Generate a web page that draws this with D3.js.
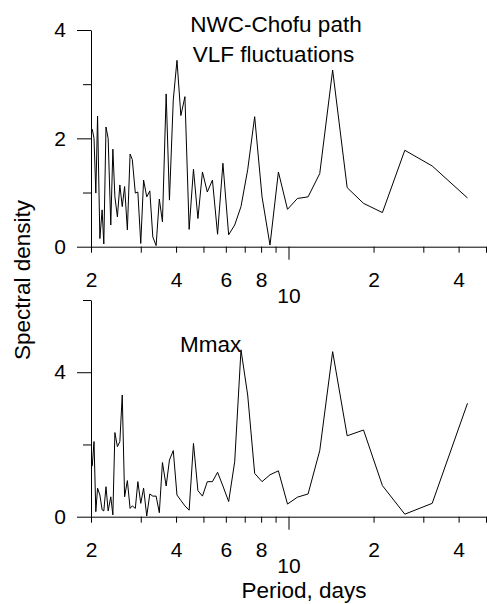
<!DOCTYPE html>
<html>
<head>
<meta charset="utf-8">
<script src="https://cdn.jsdelivr.net/npm/d3@7/dist/d3.min.js"></script>
<style>
  body { margin: 0; background: #fff; }
  svg { display: block; font-family: "Liberation Sans", Arial, sans-serif; }
</style>
</head>
<body>
<div id="chart"></div>
<script>

// period of each spectral estimate, days (longest first)
var periods = [43.0, 32.25, 25.8, 21.5, 18.43, 16.13, 14.33, 12.9, 11.73, 10.75,
  9.92, 9.21, 8.6, 8.06, 7.59, 7.17, 6.79, 6.45, 6.14, 5.86,
  5.61, 5.38, 5.16, 4.96, 4.78, 4.61, 4.45, 4.3, 4.16, 4.03,
  3.91, 3.79, 3.69, 3.58, 3.49, 3.4, 3.31, 3.23, 3.15, 3.07,
  3.0, 2.93, 2.87, 2.8, 2.75, 2.69, 2.63, 2.58, 2.53, 2.48,
  2.43, 2.39, 2.35, 2.3, 2.26, 2.22, 2.19, 2.15, 2.11, 2.08,
  2.05, 2.02];

// NWC-Chofu VLF fluctuations
var vlfDensity = [0.90, 1.49, 1.78, 0.63, 0.80, 1.09, 3.26, 1.35, 0.92, 0.89,
  0.69, 1.38, 0.03, 0.92, 2.40, 1.42, 0.74, 0.40, 0.22, 1.54,
  0.23, 1.23, 1.01, 1.38, 0.52, 1.43, 0.32, 2.77, 2.42, 3.44,
  2.71, 0.86, 2.82, 0.46, 0.88, 0.02, 0.18, 1.03, 0.92, 1.23,
  0.06, 1.01, 0.99, 1.61, 1.71, 0.31, 1.11, 0.74, 1.14, 0.55,
  0.92, 1.80, 0.40, 2.00, 2.21, 0.05, 0.68, 0.15, 2.41, 0.99,
  2.00, 2.17];

// Mmax
var mmaxDensity = [3.14, 0.37, 0.07, 0.86, 2.40, 2.24, 4.57, 1.83, 0.63, 0.54,
  0.35, 1.27, 1.16, 0.97, 1.20, 3.37, 4.62, 1.52, 0.42, 0.85,
  1.23, 0.97, 0.97, 0.57, 0.72, 2.03, 0.18, 0.30, 0.45, 0.60,
  1.83, 1.57, 0.85, 1.50, 0.11, 0.57, 0.57, 0.63, 0.02, 0.79,
  0.37, 0.97, 0.23, 0.30, 0.23, 1.00, 0.55, 3.37, 2.08, 1.94,
  2.33, 0.05, 0.55, 0.16, 0.83, 0.16, 0.19, 0.60, 0.79, 0.14,
  2.08, 1.40];

var xTicks = [2, 3, 4, 5, 6, 7, 8, 9, 10, 20, 30, 40, 50];
var xTickLabels = { 2: "2", 4: "4", 6: "6", 8: "8", 10: "10", 20: "2", 40: "4" };

var width = 487, height = 604;

var svg = d3.select('#chart').append('svg')
  .attr('width', width)
  .attr('height', height);

var x = d3.scaleLog().domain([2, 50]).range([91, 486]);

function drawPanel(opts) {
  var y = d3.scaleLinear().domain([0, opts.yMax]).range([opts.bottom, opts.top]);
  var g = svg.append('g');

  // x axis
  var xAxis = d3.axisBottom(x)
    .tickValues(xTicks)
    .tickSize(6)
    .tickSizeOuter(0)
    .tickFormat(function(d) { return xTickLabels[d] || ''; });
  var xg = g.append('g')
    .attr('transform', 'translate(0,' + opts.bottom + ')')
    .call(xAxis);
  xg.selectAll('.tick line').attr('y2', function(d) { return d === 10 ? 13 : 6; });
  xg.selectAll('.tick text')
    .attr('dy', null)
    .attr('y', function(d) { return d === 10 ? 56.3 : 40.5; })
    .attr('font-size', 21);

  // y axis
  var yAxis = d3.axisLeft(y)
    .tickValues(opts.yTicks)
    .tickSize(14)
    .tickSizeOuter(0)
    .tickPadding(11)
    .tickFormat(function(d) { return opts.yLabels.indexOf(d) >= 0 ? d : ''; });
  var yg = g.append('g')
    .attr('transform', 'translate(91,0)')
    .call(yAxis);
  yg.selectAll('.tick line').attr('x2', function(d) { return opts.yLabels.indexOf(d) >= 0 ? -14 : -8; });
  yg.selectAll('.tick text').attr('font-size', 21);

  g.selectAll('.domain').attr('stroke', '#000');
  g.selectAll('.tick line').attr('stroke', '#000');
  g.selectAll('.tick text').attr('fill', '#000').attr('font-family', null);

  var line = d3.line()
    .x(function(d, i) { return x(periods[i]); })
    .y(function(d) { return y(d); });

  g.append('path')
    .datum(opts.values)
    .attr('fill', 'none')
    .attr('stroke', '#000')
    .attr('stroke-width', 1)
    .attr('d', line);
}

drawPanel({ values: vlfDensity, yMax: 4, top: 30, bottom: 246.7,
  yTicks: [0, 1, 2, 3, 4], yLabels: [0, 2, 4] });
drawPanel({ values: mmaxDensity, yMax: 6, top: 300, bottom: 516.7,
  yTicks: [0, 2, 4, 6], yLabels: [0, 4] });

// titles and axis labels
svg.append('text').attr('x', 276).attr('y', 31.7).attr('text-anchor', 'middle')
  .attr('font-size', 22.5).text('NWC-Chofu path');
svg.append('text').attr('x', 273.5).attr('y', 62.3).attr('text-anchor', 'middle')
  .attr('font-size', 22.5).text('VLF fluctuations');
svg.append('text').attr('x', 180).attr('y', 351.7)
  .attr('font-size', 22.5).text('Mmax');
svg.append('text').attr('x', 304).attr('y', 598).attr('text-anchor', 'middle')
  .attr('font-size', 22.5).text('Period, days');
svg.append('text')
  .attr('transform', 'translate(29.5,280) rotate(-90)')
  .attr('text-anchor', 'middle')
  .attr('font-size', 22.5)
  .text('Spectral density');

</script>
</body>
</html>
